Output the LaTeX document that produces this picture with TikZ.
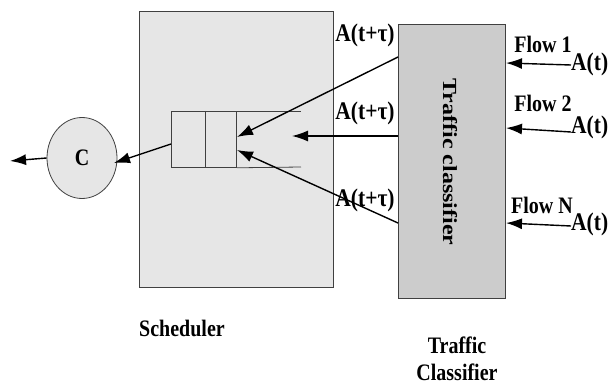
\documentclass[tikz,border=0pt]{standalone}
\usepackage{fontspec}
\setmainfont{Liberation Serif}
\usetikzlibrary{arrows.meta,shapes.geometric}
\definecolor{panelgray}{HTML}{E6E6E6}
\definecolor{classgray}{HTML}{CCCCCC}
\definecolor{edgegray}{HTML}{404040}
% tall, narrow lettering
\newcommand{\tall}[1]{\scalebox{1}[1.18]{#1}}
\begin{document}
\begin{tikzpicture}[x=1pt,y=-1pt,
  lbl/.style={font=\fontsize{20}{24}\selectfont\bfseries, inner sep=0pt},
  biglbl/.style={font=\fontsize{21.5}{24}\selectfont\bfseries, inner sep=0pt},
  conn/.style={line width=1.4pt, -{Latex[length=16pt,width=11pt]}},
  panel/.style={draw=edgegray, line width=0.8pt, inner sep=0pt, anchor=north west},
]
\useasboundingbox (0,0) rectangle (611,385);

% scheduler and classifier panels
\node[panel, fill=panelgray, minimum width=194pt, minimum height=275pt] (sched) at (139,11.5) {};
\node[panel, fill=classgray, minimum width=107pt, minimum height=274pt] (cls) at (398,24) {};
\node[lbl, rotate=-90] (clstext) at (450,162) {\scalebox{1.2}[1]{Traffic classifier}};

% queue buffer
\node[draw=edgegray, line width=0.8pt, inner sep=0pt, anchor=north west,
      minimum width=65pt, minimum height=56pt] (queue) at (171,111) {};
\draw[edgegray, line width=0.8pt] (queue.north west -| 205,0) -- (queue.south west -| 205,0);
\draw[edgegray, line width=0.8pt] (queue.north east) -- (301,111);
\draw[edgegray, line width=0.8pt] (queue.south east) -- (301,167);

% server
\node[ellipse, draw=edgegray, line width=0.8pt, fill=panelgray,
      minimum width=70pt, minimum height=81pt, inner sep=0pt,
      font=\fontsize{20}{24}\selectfont\bfseries] (server) at (82,158) {\tall{C}};

% connection points
\coordinate (qout) at (171,144);
\coordinate (srvin) at (114,163);
\coordinate (exit) at (10,161);
\coordinate (q1) at (237,137);
\coordinate (q2) at (292,136);
\coordinate (q3) at (237,150);
\coordinate (o1) at (398,57);
\coordinate (o2) at (398,136);
\coordinate (o3) at (398,223);
\coordinate (f1) at (506,63);
\coordinate (f2) at (506,128);
\coordinate (f3) at (506,223);

% output side
\draw[conn] (server.west) -- (exit);
\draw[conn] (qout) -- (srvin);

% classifier to queue
\draw[conn] (o1) -- (q1);
\draw[conn] (o2) -- (q2);
\draw[conn] (o3) -- (q3);

% labels on classifier outputs
\node[biglbl] (t1) at (365,35) {\tall{A(t+τ)}};
\node[biglbl] (t2) at (365,113) {\tall{A(t+τ)}};
\node[biglbl] (t3) at (365,200) {\tall{A(t+τ)}};

% incoming flows
\node[lbl] (flow1) at (543,44) {\tall{Flow 1}};
\node[lbl] (flow2) at (543,103) {\tall{Flow 2}};
\node[lbl] (flowN) at (542,205) {\tall{Flow N}};
\node[biglbl, anchor=west] (a1) at (571,64) {\tall{A(t)}};
\node[biglbl, anchor=west] (a2) at (571,127) {\tall{A(t)}};
\node[biglbl, anchor=west] (a3) at (571,224) {\tall{A(t)}};
\draw[conn] ([yshift=-1pt]a1.west) -- (f1);
\draw[conn] ([yshift=-5pt]a2.west) -- (f2);
\draw[conn] ([yshift=-2pt]a3.west) -- (f3);

% captions
\node[lbl] (schedcap) at (182,328) {\tall{Scheduler}};
\node[lbl] (clscap1) at (457,345) {\tall{Traffic}};
\node[lbl] (clscap2) at (457,372) {\tall{Classifier}};
\end{tikzpicture}
\end{document}
